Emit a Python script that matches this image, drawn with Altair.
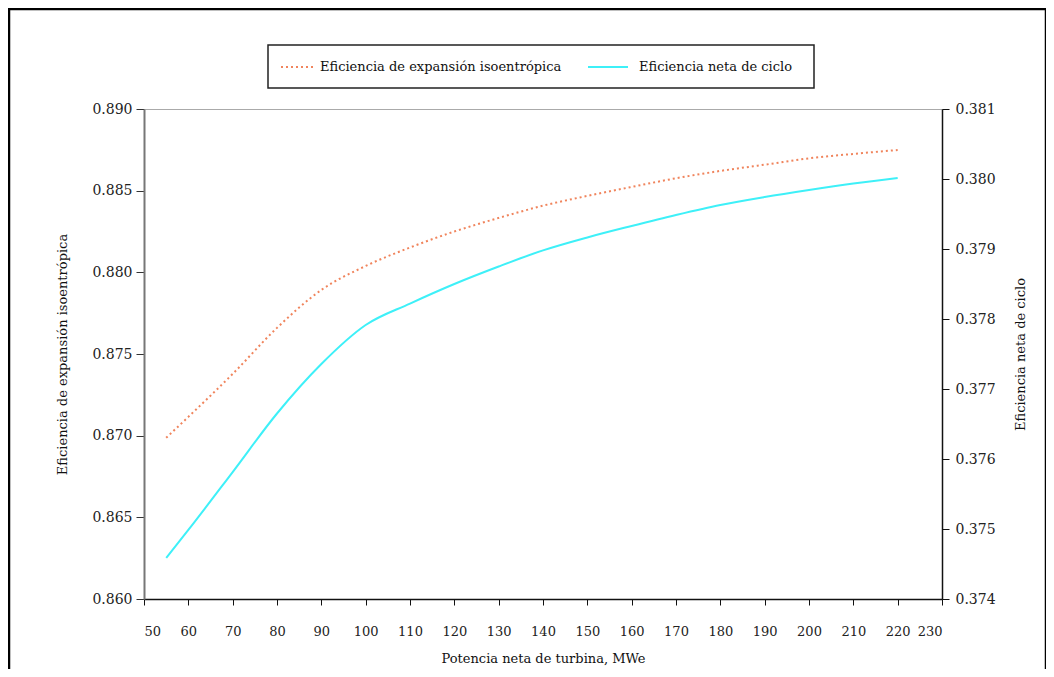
import altair as alt
import pandas as pd

# --- data ---
potencia = [55, 60, 70, 80, 90, 100, 110, 120, 130, 140, 150, 160, 170, 180, 190, 200, 210, 220]
ef_isoentropica = [0.86987, 0.87115, 0.87378, 0.87660, 0.87892, 0.88039, 0.88152, 0.88250,
                   0.88333, 0.88408, 0.88468, 0.88523, 0.88576, 0.88621, 0.88659, 0.88698,
                   0.88725, 0.88749]
ef_ciclo = [0.374586, 0.374986, 0.375814, 0.376650, 0.377357, 0.377914, 0.378220, 0.378500,
            0.378750, 0.378980, 0.379165, 0.379329, 0.379486, 0.379629, 0.379743, 0.379843,
            0.379935, 0.380014]
x_ticks = list(range(50, 231, 10))
left_ticks = [0.860, 0.865, 0.870, 0.875, 0.880, 0.885, 0.890]
right_ticks = [0.374, 0.375, 0.376, 0.377, 0.378, 0.379, 0.380, 0.381]
serie1 = "Eficiencia de expansión isoentrópica"
serie2 = "Eficiencia neta de ciclo"
x_title = "Potencia neta de turbina, MWe"

df = pd.DataFrame({"p": potencia, "iso": ef_isoentropica, "ciclo": ef_ciclo})
one = pd.DataFrame({"k": [0]})

FONT = "DejaVu Serif"
ORANGE = "#f0845c"
CYAN = "#3ef0f8"

xenc = alt.X("p:Q", scale=alt.Scale(domain=[50, 230], nice=False),
             axis=alt.Axis(values=x_ticks, title=x_title, grid=False, tickSize=6,
                           domainColor="#111", domainWidth=1.5, tickColor="#111",
                           labelFontSize=13, labelPadding=20, titlePadding=14,
                           format="d"))

line_iso = alt.Chart(df).mark_line(color=ORANGE, strokeWidth=2, strokeDash=[2, 3],
                                   interpolate="monotone").encode(
    x=xenc,
    y=alt.Y("iso:Q", scale=alt.Scale(domain=[0.860, 0.890], nice=False, zero=False),
            axis=alt.Axis(values=left_ticks, format=".3f", title=serie1, grid=False,
                          tickSize=8, domainColor="#777", domainWidth=2,
                          tickColor="#333", titlePadding=22, labelPadding=4)),
)

line_ciclo = alt.Chart(df).mark_line(color=CYAN, strokeWidth=2,
                                     interpolate="monotone").encode(
    x=alt.X("p:Q"),
    y=alt.Y("ciclo:Q", scale=alt.Scale(domain=[0.374, 0.381], nice=False, zero=False),
            axis=alt.Axis(values=right_ticks, format=".3f", title=serie2, orient="right",
                          grid=False, tickSize=7, domainColor="#111", domainWidth=1.5,
                          tickColor="#111", titleAngle=270, titlePadding=32,
                          labelPadding=6)),
)

# outer frame
frame = alt.Chart(one).mark_rect(fill=None, stroke="black", strokeWidth=2.5).encode(
    x=alt.value(-135), x2=alt.value(902), y=alt.value(-100), y2=alt.value(600))

# legend box
leg_box = alt.Chart(one).mark_rect(fill="white", stroke="#222", strokeWidth=1.5).encode(
    x=alt.value(124), x2=alt.value(670), y=alt.value(-64), y2=alt.value(-21))
leg_s1 = alt.Chart(one).mark_rule(color=ORANGE, strokeWidth=2, strokeDash=[2, 3]).encode(
    x=alt.value(137), x2=alt.value(172), y=alt.value(-42))
leg_t1 = alt.Chart(one).mark_text(align="left", baseline="middle", font=FONT,
                                  fontSize=13, color="#111").encode(
    x=alt.value(176), y=alt.value(-42), text=alt.value(serie1))
leg_s2 = alt.Chart(one).mark_rule(color=CYAN, strokeWidth=2).encode(
    x=alt.value(444), x2=alt.value(484), y=alt.value(-42))
leg_t2 = alt.Chart(one).mark_text(align="left", baseline="middle", font=FONT,
                                  fontSize=13, color="#111").encode(
    x=alt.value(495), y=alt.value(-42), text=alt.value(serie2))

chart = alt.layer(
    line_iso, line_ciclo, frame, leg_box, leg_s1, leg_t1, leg_s2, leg_t2
).resolve_scale(y="independent").properties(
    width=798, height=490,
    background="white",
    autosize=alt.AutoSizeParams(type="none"),
    padding={"left": 136, "top": 101, "right": 104, "bottom": 70},
).configure_view(stroke="#aaaaaa", strokeWidth=1).configure_axis(
    labelFont=FONT, titleFont=FONT, labelFontSize=14, titleFontSize=13,
    labelColor="#222", titleColor="#111", titleFontWeight="normal",
)

chart.save("out.html", embed_options={"renderer": "svg", "actions": False})
